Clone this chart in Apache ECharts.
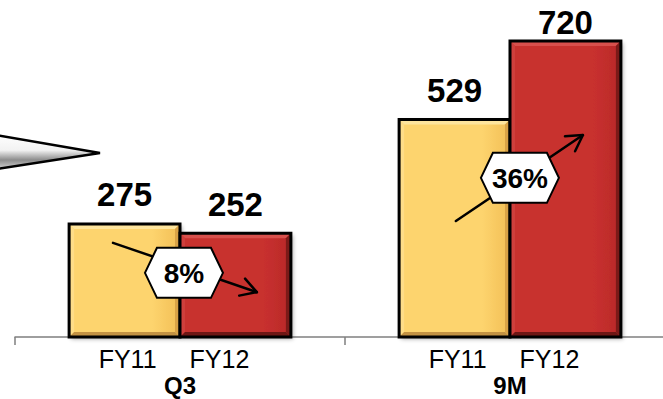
<!DOCTYPE html>
<html>
<head>
<meta charset="utf-8">
<style>
  html, body { margin: 0; padding: 0; background: #ffffff; }
  #chart { width: 663px; height: 399px; }
</style>
<script src="https://cdn.jsdelivr.net/npm/echarts@6/dist/echarts.min.js"></script>
</head>
<body>
<div id="chart"></div>
<script>
// Revenue by period, previous year vs current year
const categories = ['Q3', '9M'];
const yearNames = ['FY11', 'FY12'];
const fy11Values = [275, 529];
const fy12Values = [252, 720];
const growthLabels = ['8%', '36%'];

// Bar geometry: each bar takes this share of its category band
const BAR_RATIO = 0.336;
const BEVEL = 5;

// Growth arrows, per category: x as a share of the band width from the band
// centre, y in value units
const arrowLayout = [
  { from: [-0.203, 229], to: [0.233, 109], badge: [0.012, 156] },
  { from: [-0.164, 282], to: [0.221, 491], badge: [0.030, 387] }
];

const palettes = [
  { main: '#FDD46E', mainDark: '#F2BE55', top: '#FEE59D', left: '#FEDD88', right: '#D9A246', bottom: '#C39243' },
  { main: '#C8302F', mainDark: '#B92A29', top: '#D8504C', left: '#CF3F3C', right: '#7B1A18', bottom: '#6E1715' }
];

function barRenderer(side) {
  const pal = palettes[side];
  return function (params, api) {
    const idx = api.value(0);
    const val = api.value(1);
    const base = api.coord([idx, 0]);
    const top = api.coord([idx, val]);
    const band = api.size([1, 0])[0];
    const w = band * BAR_RATIO;
    const x = side === 0 ? base[0] - w : base[0];
    const y = top[1];
    const h = base[1] - top[1];
    const b = BEVEL;
    const poly = (pts, fill) => ({ type: 'polygon', shape: { points: pts }, style: { fill: fill } });
    // keep the value label inside the plot for the tallest bar
    const labelY = Math.max(y - 29, 22);
    return {
      type: 'group',
      children: [
        {
          type: 'rect',
          shape: { x: x, y: y, width: w, height: h },
          style: {
            fill: new echarts.graphic.LinearGradient(0, 0, 1, 0, [
              { offset: 0, color: pal.main },
              { offset: 0.75, color: pal.main },
              { offset: 1, color: pal.mainDark }
            ]),
            shadowBlur: 4, shadowOffsetX: 2, shadowOffsetY: 2, shadowColor: 'rgba(0,0,0,0.35)'
          }
        },
        poly([[x, y], [x + w, y], [x + w - b, y + b], [x + b, y + b]], pal.top),
        poly([[x, y], [x + b, y + b], [x + b, y + h - b], [x, y + h]], pal.left),
        poly([[x + w, y], [x + w, y + h], [x + w - b, y + h - b], [x + w - b, y + b]], pal.right),
        poly([[x, y + h], [x + w, y + h], [x + w - b, y + h - b], [x + b, y + h - b]], pal.bottom),
        {
          type: 'rect',
          shape: { x: x, y: y, width: w, height: h },
          style: { fill: 'none', stroke: '#000000', lineWidth: 3 }
        },
        {
          type: 'text',
          x: x + w / 2,
          y: labelY,
          style: {
            text: String(val),
            fill: '#000000',
            font: 'bold 33px "Liberation Sans", Arial, sans-serif',
            align: 'center',
            verticalAlign: 'middle'
          }
        }
      ]
    };
  };
}

function growthRenderer(params, api) {
  const idx = api.value(0);
  const lay = arrowLayout[idx];
  const band = api.size([1, 0])[0];
  const cx = api.coord([idx, 0])[0];
  const pt = (p) => [cx + p[0] * band, api.coord([idx, p[1]])[1]];
  const a = pt(lay.from);
  const e = pt(lay.to);
  const c = pt(lay.badge);
  const ang = Math.atan2(e[1] - a[1], e[0] - a[0]);
  const hl = 18, spread = Math.PI / 6;
  const h1 = [e[0] - hl * Math.cos(ang - spread), e[1] - hl * Math.sin(ang - spread)];
  const h2 = [e[0] - hl * Math.cos(ang + spread), e[1] - hl * Math.sin(ang + spread)];
  const hw = 39, hh = 25, inset = 12;
  const hex = [
    [c[0] - hw, c[1]], [c[0] - hw + inset, c[1] - hh], [c[0] + hw - inset, c[1] - hh],
    [c[0] + hw, c[1]], [c[0] + hw - inset, c[1] + hh], [c[0] - hw + inset, c[1] + hh]
  ];
  const stroke = { stroke: '#000000', lineWidth: 2.5, fill: 'none', lineCap: 'round', lineJoin: 'round' };
  return {
    type: 'group',
    children: [
      { type: 'line', shape: { x1: a[0], y1: a[1], x2: e[0], y2: e[1] }, style: stroke },
      { type: 'polyline', shape: { points: [h1, e, h2] }, style: stroke },
      { type: 'polygon', shape: { points: hex }, style: { fill: '#ffffff', stroke: '#000000', lineWidth: 2 } },
      {
        type: 'text', x: c[0], y: c[1] + 1,
        style: {
          text: growthLabels[idx],
          fill: '#000000',
          font: 'bold 28px "Liberation Sans", Arial, sans-serif',
          align: 'center', verticalAlign: 'middle'
        }
      }
    ]
  };
}

const chart = echarts.init(document.getElementById('chart'), null, { renderer: 'svg' });

chart.setOption({
  animation: false,
  backgroundColor: '#ffffff',
  grid: { left: 15, right: -12, top: 8, bottom: 62, containLabel: false, outerBoundsMode: 'none' },
  xAxis: {
    type: 'category',
    data: categories,
    boundaryGap: true,
    axisLine: { lineStyle: { color: '#7f7f7f', width: 1.5 } },
    axisTick: { show: true, length: 8, lineStyle: { color: '#7f7f7f', width: 1.5 } },
    axisLabel: {
      margin: 8,
      formatter: (v) => '{y|' + yearNames[0] + '}{s|}{y|' + yearNames[1] + '}{t|}\n{g|' + v + '}',
      rich: {
        y: { fontFamily: '"Liberation Sans", Arial, sans-serif', fontSize: 25, color: '#000000', lineHeight: 28 },
        s: { width: 33 },
        t: { width: 12 },
        g: { fontFamily: '"Liberation Sans", Arial, sans-serif', fontSize: 24, fontWeight: 'bold', color: '#000000', lineHeight: 24 }
      }
    }
  },
  yAxis: { type: 'value', min: 0, max: 800, show: false, splitLine: { show: false } },
  graphic: [
    {
      type: 'polygon',
      shape: { points: [[-10, 134], [100, 153], [-10, 170]] },
      style: {
        fill: new echarts.graphic.LinearGradient(0, 0, 0, 1, [
          { offset: 0, color: '#ffffff' },
          { offset: 0.45, color: '#f2f2f2' },
          { offset: 0.72, color: '#8c8c8c' },
          { offset: 1, color: '#d9d9d9' }
        ]),
        stroke: '#000000',
        lineWidth: 2.5
      }
    }
  ],
  series: [
    {
      name: yearNames[0],
      type: 'custom',
      renderItem: barRenderer(0),
      encode: { x: 0, y: 1 },
      data: fy11Values.map((v, i) => [i, v]),
      z: 2
    },
    {
      name: yearNames[1],
      type: 'custom',
      renderItem: barRenderer(1),
      encode: { x: 0, y: 1 },
      data: fy12Values.map((v, i) => [i, v]),
      z: 2
    },
    {
      name: 'growth',
      type: 'custom',
      renderItem: growthRenderer,
      encode: { x: 0, y: 1 },
      data: growthLabels.map((g, i) => [i, 0]),
      z: 5
    }
  ]
});
</script>
</body>
</html>
